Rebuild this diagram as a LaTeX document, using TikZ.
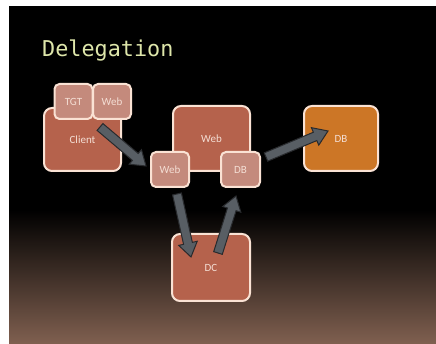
\documentclass[tikz,border=0pt]{standalone}
\usepackage{fontspec}
\setmainfont{Carlito}
\newfontfamily\titlefont{DejaVu Sans Mono}
\usetikzlibrary{calc}

\definecolor{boxfill}{RGB}{181,98,76}
\definecolor{tabfill}{RGB}{196,138,124}
\definecolor{dbfill}{RGB}{204,118,38}
\definecolor{boxedge}{RGB}{250,226,212}
\definecolor{labelcol}{RGB}{244,222,212}
\definecolor{arrowfill}{RGB}{88,94,100}
\definecolor{arrowedge}{RGB}{40,42,45}
\definecolor{titlecol}{RGB}{222,230,170}
\definecolor{floor}{RGB}{128,96,80}

\tikzset{
  box/.style={rectangle, draw=boxedge, line width=2pt, fill=boxfill,
    rounded corners=8pt, inner sep=0pt, text=labelcol,
    font=\fontsize{11}{13}\selectfont},
  tab/.style={box, fill=tabfill, rounded corners=5pt,
    minimum width=38pt, minimum height=35pt},
  arrowbody/.style={fill=arrowfill, draw=arrowedge, line width=1pt},
}

% thick block arrow from #1 to #2 (shaft half width 4.5, head half width 9.5, head length 14)
\newcommand\blockarrow[2]{%
  \coordinate (#2-base) at ($(#2)!14pt!(#1)$);
  \filldraw[arrowbody]
    ($(#1)!4.5pt!90:(#2)$) -- ($(#2-base)!4.5pt!90:(#2)$) --
    ($(#2-base)!9.5pt!90:(#2)$) -- (#2) --
    ($(#2-base)!9.5pt!-90:(#2)$) -- ($(#2-base)!4.5pt!-90:(#2)$) --
    ($(#1)!4.5pt!-90:(#2)$) -- cycle;
}

\begin{document}
\begin{tikzpicture}[x=1pt, y=-1pt]
  % page and slide background
  \fill[white] (0,0) rectangle (436,344);
  \useasboundingbox (0,0) rectangle (436,344);
  \fill[black] (9,6) rectangle (436,211);
  \shade[top color=black, bottom color=floor] (9,210) rectangle (436,344);

  % title
  \node[anchor=base west, inner sep=0pt, text=titlecol,
        font=\titlefont\fontsize{21.8}{24}\selectfont] (title) at (42,57) {Delegation};

  % client with its tickets
  \node[box, minimum width=77pt, minimum height=63pt] (client) at (82.5,139.5) {Client};
  \node[tab] (tgt) at (73.5,101.5) {TGT};
  \node[tab] (webtkt) at (112,101.5) {Web};

  % web server and its tickets
  \node[box, minimum width=77pt, minimum height=65pt] (web) at (211.5,138.5) {Web};
  \node[tab, minimum width=38pt] (websvc) at (170,169.5) {Web};
  \node[tab, minimum width=39pt] (dbtkt) at (240.5,169.5) {DB};

  % database server
  \node[box, fill=dbfill, minimum width=74pt, minimum height=65pt] (db) at (341,138.5) {DB};

  % domain controller
  \node[box, minimum width=78pt, minimum height=67pt] (dc) at (211,267.5) {DC};

  % arrow end points
  \coordinate (a1s) at (100,127);
  \coordinate (a1e) at (146,166);
  \coordinate (a2s) at (177,194);
  \coordinate (a2e) at (191,257);
  \coordinate (a3s) at (218,253);
  \coordinate (a3e) at (236,196);
  \coordinate (a4s) at (266,157);
  \coordinate (a4e) at (328,131);

  \blockarrow{a1s}{a1e}
  \blockarrow{a2s}{a2e}
  \blockarrow{a3s}{a3e}
  \blockarrow{a4s}{a4e}
\end{tikzpicture}
\end{document}
